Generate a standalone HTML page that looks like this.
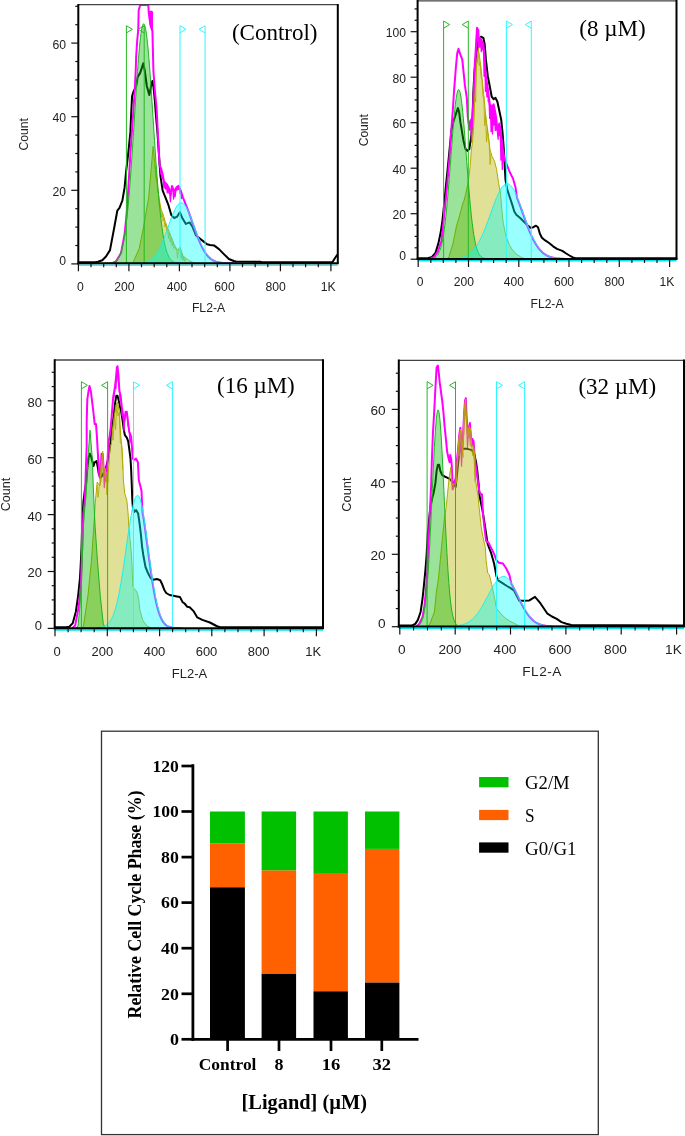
<!DOCTYPE html>
<html><head><meta charset="utf-8"><title>Cell cycle analysis</title>
<style>html,body{margin:0;padding:0;background:#fff;overflow:hidden}svg{display:block;will-change:transform}</style>
</head><body>
<svg width="685" height="1136" viewBox="0 0 685 1136">
<rect width="685" height="1136" fill="#fff"/>
<clipPath id="c1"><rect x="78.3" y="4.5" width="259.5" height="258.8"/></clipPath>
<g clip-path="url(#c1)">
<polyline points="78.4,262.3 95,262.3 98,261.8 102.3,260.3 106,256.5 110,250.1 114.4,226.8 117.3,210.7 119.5,207.8 122.4,200.5 124.6,187.4 126.1,171.3 128.2,153.8 130.4,131.9 131.1,115 132.1,96.1 133.7,91.1 136.2,86 137.7,76.9 140.2,72.9 143.3,63.2 144.8,70.8 146.8,86 149.3,95.1 150.9,87 152.4,80.9 153.4,86 154.9,101.2 155.9,115 157.4,131.9 158.9,153.8 160.4,175.7 162.6,190.3 165.5,197.6 168.4,204.9 171.3,215.1 174.2,218 177.2,216.6 179.8,212.2 182.3,218 185.9,223.9 189.6,222.4 192.5,226.8 196.1,235.5 199.8,238.5 203.4,241.4 207.1,244.3 210,245 214,245.4 219,249.1 223.9,254.1 228.9,259 233.8,261 236,261.5 260,261.8 262,262.3 332.4,262.3 335,258 337.4,254.7" fill="none" stroke="#000" stroke-width="2" stroke-linejoin="round"/>
<polyline points="112,263.3 115.8,261.8 121,253.1 124.6,234.1 126.8,212.2 128.2,190.3 130.4,153.8 131.9,131.9 133.4,110 134.7,91.1 135.7,70.8 136.2,55.7 137.2,40.5 138.2,30.4 138.7,10.1 140.2,5 148.3,5 148.8,13.2 150.5,25 152.4,30.4 152.9,50.6 153.4,70.8 154.9,91.1 156.4,106.2 156.7,110 158.2,139.2 159.6,165.5 161.1,168.4 162.6,174.2 164,181.5 166.9,184.5 169.1,188.8 170.6,194.7 172,185.9 174.2,191.8 176.4,187.4 178.6,185.9 180.1,188.8 183,197.6 185.9,204.9 188.8,212.2 191.8,220.9 191.9,221.4 192.4,222.8 192.9,224.2 193.4,225.5 193.9,226.9 194.4,228.3 194.9,229.7 195.4,231.1 195.9,232.4 196.4,233.8 196.9,235.1 197.4,236.4 197.9,237.7 198.4,239 198.9,240.2 199.4,241.4 199.9,242.6 200.4,243.7 200.9,244.8 201.4,245.9 201.9,246.9 202.4,247.9 202.9,248.8 203.4,249.7 203.9,250.6 204.4,251.4 204.9,252.2 205.4,253 205.9,253.7 206.4,254.4 206.9,255 207.4,255.6 207.9,256.2 208.4,256.7 208.9,257.2 209.4,257.7 209.9,258.2 210.4,258.6 210.9,259 211.4,259.3 211.9,259.7 212.4,260 212.9,260.3 213.4,260.5 213.9,260.8 214.4,261 214.9,261.2 215.4,261.4 215.9,261.6 216.4,261.8 216.9,261.9 217.4,262.1 217.9,262.2 218.4,262.3 218.9,262.4 219.4,262.5 219.9,262.6 220.4,262.7 220.9,262.7 221.4,262.8 221.9,262.8 222.4,262.9 222.9,262.9 223.4,263 223.9,263 224.4,263.1 224.9,263.1 225.4,263.1 225.9,263.1 226.4,263.2 226.9,263.2 227.4,263.2 227.9,263.2 228.4,263.2 228.9,263.2 229.4,263.2 229.9,263.2 230.4,263.3 230.9,263.3 231.4,263.3 231.9,263.3 232.4,263.3 232.9,263.3 233.4,263.3 233.9,263.3 234.4,263.3 234.9,263.3 235.4,263.3 235.9,263.3" fill="none" stroke="#ff00ff" stroke-width="2" stroke-linejoin="round"/>
<polyline points="160,167 160.8,174.2 161.6,171.7 162.4,179.2 163.2,178.1 164,188 164.8,182.6 165.6,189.2 166.4,184.9 167.2,192.8 168,186.8 168.8,193 169.6,190.9 170.4,201.8 171.2,192 172,189.2 172.8,189.5 173.6,199 174.4,192.4 175.2,196.5 176,188.4 176.8,190.2 177.6,187.4 178.4,189.4 179.2,187.3 180,193.1 180.8,191 181.6,199.1" fill="none" stroke="#ff00ff" stroke-width="1.3" stroke-linejoin="round"/>
<polygon points="148.6,11.5 151,10.5 153,11.5 153,30 151.5,31 150,27 149,20" fill="#ff00ff"/>
<polygon points="132,263.3 133.4,261.8 139.2,248.7 143.6,226.8 148.7,197.6 151.5,165 153.1,146.5 155.3,168.4 156.7,178.6 158.9,197.6 161.1,209.3 163.3,215.1 165.5,222.4 167.7,228.2 171.3,237 174.2,244.3 177.2,250.1 180.1,247.2 183,256 188.8,260.4 193.2,262.6 195,263.3" fill="rgb(186,186,22)" fill-opacity="0.45" stroke="#b3a800" stroke-width="1"/>
<polyline points="155,166.1 155.9,179.4 156.8,180.5 157.7,190.2 158.6,195 159.5,205.4 160.4,206 161.3,217.5 162.2,213.2 163.1,220.8 164,218.3 164.9,227 165.8,223.4 166.7,230.6 167.6,228.2 168.5,238.5 169.4,232.4 170.3,242.3 171.2,236.9 172.1,245.8 173,241.8 173.9,248.4 174.8,246.7 175.7,249.3 176.6,249 177.5,258.2 178.4,249.7 179.3,250.6 180.2,249 181.1,258.9 182,253.1 182.9,260.7 183.8,256.8 184.7,261.5 185.6,258.9" fill="none" stroke="#b3a800" stroke-width="1" stroke-opacity="0.8"/>
<polygon points="105,263.3 105,263.3 105.5,263.3 106,263.2 106.5,263.2 107,263.2 107.5,263.2 108,263.2 108.5,263.1 109,263.1 109.5,263.1 110,263 110.5,262.9 111,262.9 111.5,262.8 112,262.7 112.5,262.5 113,262.4 113.5,262.2 114,262 114.5,261.7 115,261.4 115.5,261.1 116,260.7 116.5,260.2 117,259.7 117.5,259.1 118,258.4 118.5,257.6 119,256.7 119.5,255.6 120,254.5 120.5,253.2 121,251.7 121.5,250.1 122,248.2 122.5,246.2 123,244 123.5,241.5 124,238.8 124.5,235.8 125,232.5 125.5,229 126,225.2 126.5,221.1 127,216.6 127.5,211.9 128,206.8 128.5,201.5 129,195.8 129.5,189.8 130,183.5 130.5,176.9 131,170.1 131.5,163 132,155.7 132.5,148.2 133,140.6 133.5,132.8 134,125 134.5,117.1 135,109.2 135.5,101.4 136,93.6 136.5,86.1 137,78.7 137.5,71.6 138,64.8 138.5,58.4 139,52.4 139.5,46.9 140,41.8 140.5,37.4 141,33.5 141.5,30.2 142,27.6 142.5,25.6 143,24.4 143.5,23.8 144,24 144.5,24.8 145,26.3 145.5,28.4 146,31.2 146.5,34.6 147,38.6 147.5,43.2 148,48.2 148.5,53.8 149,59.7 149.5,66.1 150,72.8 150.5,79.8 151,87 151.5,94.5 152,102 152.5,109.7 153,117.4 153.5,125.1 154,132.8 154.5,140.4 155,147.9 155.5,155.2 156,162.4 156.5,169.4 157,176.1 157.5,182.5 158,188.7 158.5,194.7 159,200.3 159.5,205.6 160,210.6 160.5,215.4 161,219.8 161.5,223.9 162,227.7 162.5,231.3 163,234.6 163.5,237.6 164,240.4 164.5,242.9 165,245.2 165.5,247.3 166,249.2 166.5,250.9 167,252.4 167.5,253.7 168,255 168.5,256 169,257 169.5,257.9 170,258.6 170.5,259.3 171,259.8 171.5,260.3 172,260.8 172.5,261.2 173,261.5 173.5,261.8 174,262 174.5,262.2 175,262.4 175.5,262.5 176,262.7 176.5,262.8 177,262.9 177.5,262.9 178,263 178.5,263.1 179,263.1 179.5,263.1 180,263.2 180.5,263.2 181,263.2 181.5,263.2 182,263.2 182.5,263.3 183,263.3 183,263.3" fill="rgb(11,184,9)" fill-opacity="0.41" stroke="#1db41d" stroke-width="1"/>
<polygon points="127,263.3 127,263.3 127.5,263.3 128,263.3 128.5,263.3 129,263.3 129.5,263.3 130,263.3 130.5,263.3 131,263.3 131.5,263.3 132,263.3 132.5,263.3 133,263.2 133.5,263.2 134,263.2 134.5,263.2 135,263.2 135.5,263.2 136,263.2 136.5,263.1 137,263.1 137.5,263.1 138,263.1 138.5,263 139,263 139.5,263 140,262.9 140.5,262.9 141,262.8 141.5,262.8 142,262.7 142.5,262.6 143,262.5 143.5,262.5 144,262.3 144.5,262.2 145,262.1 145.5,262 146,261.8 146.5,261.7 147,261.5 147.5,261.3 148,261.1 148.5,260.9 149,260.6 149.5,260.3 150,260 150.5,259.7 151,259.4 151.5,259 152,258.6 152.5,258.2 153,257.7 153.5,257.2 154,256.7 154.5,256.2 155,255.6 155.5,255 156,254.3 156.5,253.6 157,252.9 157.5,252.1 158,251.3 158.5,250.4 159,249.5 159.5,248.6 160,247.6 160.5,246.6 161,245.5 161.5,244.4 162,243.3 162.5,242.1 163,240.9 163.5,239.6 164,238.4 164.5,237.1 165,235.7 165.5,234.4 166,233 166.5,231.6 167,230.2 167.5,228.8 168,227.4 168.5,226 169,224.6 169.5,223.1 170,221.7 170.5,220.4 171,219 171.5,217.6 172,216.3 172.5,215.1 173,213.8 173.5,212.6 174,211.5 174.5,210.4 175,209.4 175.5,208.4 176,207.5 176.5,206.7 177,205.9 177.5,205.2 178,204.6 178.5,204.1 179,203.7 179.5,203.3 180,203.1 180.5,202.9 181,202.8 181.5,202.8 182,202.9 182.5,203.1 183,203.4 183.5,203.7 184,204.2 184.5,204.7 185,205.3 185.5,206 186,206.7 186.5,207.5 187,208.4 187.5,209.4 188,210.4 188.5,211.4 189,212.5 189.5,213.7 190,214.9 190.5,216.1 191,217.4 191.5,218.7 192,220.1 192.5,221.4 193,222.8 193.5,224.2 194,225.5 194.5,226.9 195,228.3 195.5,229.7 196,231.1 196.5,232.4 197,233.8 197.5,235.1 198,236.4 198.5,237.7 199,239 199.5,240.2 200,241.4 200.5,242.6 201,243.7 201.5,244.8 202,245.9 202.5,246.9 203,247.9 203.5,248.8 204,249.7 204.5,250.6 205,251.4 205.5,252.2 206,253 206.5,253.7 207,254.4 207.5,255 208,255.6 208.5,256.2 209,256.7 209.5,257.2 210,257.7 210.5,258.2 211,258.6 211.5,259 212,259.3 212.5,259.7 213,260 213.5,260.3 214,260.5 214.5,260.8 215,261 215.5,261.2 216,261.4 216.5,261.6 217,261.8 217.5,261.9 218,262.1 218.5,262.2 219,262.3 219.5,262.4 220,262.5 220.5,262.6 221,262.7 221.5,262.7 222,262.8 222.5,262.8 223,262.9 223.5,262.9 224,263 224.5,263 225,263.1 225.5,263.1 226,263.1 226.5,263.1 227,263.2 227.5,263.2 228,263.2 228.5,263.2 229,263.2 229.5,263.2 230,263.2 230.5,263.2 231,263.3 231.5,263.3 232,263.3 232.5,263.3 233,263.3 233.5,263.3 234,263.3 234.5,263.3 235,263.3 235.5,263.3 236,263.3 236.5,263.3 236.5,263.3" fill="#00ffff" fill-opacity="0.4" stroke="#12f0f0" stroke-width="1"/>
</g>
<line x1="126.4" y1="25.7" x2="126.4" y2="263.3" stroke="#26b826" stroke-width="1"/>
<polyline points="126.4,25.7 132.4,29.3 126.4,32.9" fill="none" stroke="#26b826" stroke-width="1"/>
<line x1="144.2" y1="25.7" x2="144.2" y2="263.3" stroke="#26b826" stroke-width="1"/>
<polyline points="144.2,25.7 138.2,29.3 144.2,32.9" fill="none" stroke="#26b826" stroke-width="1"/>
<line x1="180" y1="25.7" x2="180" y2="263.3" stroke="#2ff8ff" stroke-width="1"/>
<polyline points="180,25.7 186,29.3 180,32.9" fill="none" stroke="#2ff8ff" stroke-width="1"/>
<line x1="205.1" y1="25.7" x2="205.1" y2="263.3" stroke="#2ff8ff" stroke-width="1"/>
<polyline points="205.1,25.7 199.1,29.3 205.1,32.9" fill="none" stroke="#2ff8ff" stroke-width="1"/>
<line x1="78.3" y1="265.1" x2="337.8" y2="265.1" stroke="#00e5ee" stroke-width="1.4"/>
<line x1="78.3" y1="4.7" x2="337.8" y2="4.7" stroke="#444" stroke-width="1.3"/>
<line x1="337.8" y1="3.9" x2="337.8" y2="263.3" stroke="#000" stroke-width="2"/>
<line x1="78.3" y1="3.9" x2="78.3" y2="264.3" stroke="#000" stroke-width="2"/>
<line x1="77.3" y1="263.3" x2="338.8" y2="263.3" stroke="#000" stroke-width="2"/>
<line x1="71.3" y1="263.9" x2="78.3" y2="263.9" stroke="#111" stroke-width="1.2"/>
<text transform="translate(66.1,265.1) scale(1.0,1)" text-anchor="end" style="font-family:&quot;Liberation Sans&quot;,sans-serif;font-size:12.2px" fill="#222">0</text>
<line x1="75.3" y1="245.5" x2="78.3" y2="245.5" stroke="#111" stroke-width="1.2"/>
<line x1="75.3" y1="227.1" x2="78.3" y2="227.1" stroke="#111" stroke-width="1.2"/>
<line x1="75.3" y1="208.7" x2="78.3" y2="208.7" stroke="#111" stroke-width="1.2"/>
<line x1="71.3" y1="190.3" x2="78.3" y2="190.3" stroke="#111" stroke-width="1.2"/>
<text transform="translate(66.1,196) scale(1.0,1)" text-anchor="end" style="font-family:&quot;Liberation Sans&quot;,sans-serif;font-size:12.2px" fill="#222">20</text>
<line x1="75.3" y1="171.9" x2="78.3" y2="171.9" stroke="#111" stroke-width="1.2"/>
<line x1="75.3" y1="153.5" x2="78.3" y2="153.5" stroke="#111" stroke-width="1.2"/>
<line x1="75.3" y1="135.1" x2="78.3" y2="135.1" stroke="#111" stroke-width="1.2"/>
<line x1="71.3" y1="116.7" x2="78.3" y2="116.7" stroke="#111" stroke-width="1.2"/>
<text transform="translate(66.1,122.4) scale(1.0,1)" text-anchor="end" style="font-family:&quot;Liberation Sans&quot;,sans-serif;font-size:12.2px" fill="#222">40</text>
<line x1="75.3" y1="98.3" x2="78.3" y2="98.3" stroke="#111" stroke-width="1.2"/>
<line x1="75.3" y1="79.9" x2="78.3" y2="79.9" stroke="#111" stroke-width="1.2"/>
<line x1="75.3" y1="61.5" x2="78.3" y2="61.5" stroke="#111" stroke-width="1.2"/>
<line x1="71.3" y1="43.1" x2="78.3" y2="43.1" stroke="#111" stroke-width="1.2"/>
<text transform="translate(66.1,48.8) scale(1.0,1)" text-anchor="end" style="font-family:&quot;Liberation Sans&quot;,sans-serif;font-size:12.2px" fill="#222">60</text>
<line x1="75.3" y1="24.7" x2="78.3" y2="24.7" stroke="#111" stroke-width="1.2"/>
<line x1="75.3" y1="6.3" x2="78.3" y2="6.3" stroke="#111" stroke-width="1.2"/>
<line x1="78.4" y1="263.3" x2="78.4" y2="271.3" stroke="#111" stroke-width="1.2"/>
<line x1="91" y1="263.3" x2="91" y2="267.3" stroke="#111" stroke-width="1.2"/>
<line x1="103.7" y1="263.3" x2="103.7" y2="267.3" stroke="#111" stroke-width="1.2"/>
<line x1="116.3" y1="263.3" x2="116.3" y2="267.3" stroke="#111" stroke-width="1.2"/>
<line x1="128.9" y1="263.3" x2="128.9" y2="271.3" stroke="#111" stroke-width="1.2"/>
<line x1="141.5" y1="263.3" x2="141.5" y2="267.3" stroke="#111" stroke-width="1.2"/>
<line x1="154.2" y1="263.3" x2="154.2" y2="267.3" stroke="#111" stroke-width="1.2"/>
<line x1="166.8" y1="263.3" x2="166.8" y2="267.3" stroke="#111" stroke-width="1.2"/>
<line x1="179.4" y1="263.3" x2="179.4" y2="271.3" stroke="#111" stroke-width="1.2"/>
<line x1="192" y1="263.3" x2="192" y2="267.3" stroke="#111" stroke-width="1.2"/>
<line x1="204.7" y1="263.3" x2="204.7" y2="267.3" stroke="#111" stroke-width="1.2"/>
<line x1="217.3" y1="263.3" x2="217.3" y2="267.3" stroke="#111" stroke-width="1.2"/>
<line x1="229.9" y1="263.3" x2="229.9" y2="271.3" stroke="#111" stroke-width="1.2"/>
<line x1="242.5" y1="263.3" x2="242.5" y2="267.3" stroke="#111" stroke-width="1.2"/>
<line x1="255.2" y1="263.3" x2="255.2" y2="267.3" stroke="#111" stroke-width="1.2"/>
<line x1="267.8" y1="263.3" x2="267.8" y2="267.3" stroke="#111" stroke-width="1.2"/>
<line x1="280.4" y1="263.3" x2="280.4" y2="271.3" stroke="#111" stroke-width="1.2"/>
<line x1="293" y1="263.3" x2="293" y2="267.3" stroke="#111" stroke-width="1.2"/>
<line x1="305.6" y1="263.3" x2="305.6" y2="267.3" stroke="#111" stroke-width="1.2"/>
<line x1="318.3" y1="263.3" x2="318.3" y2="267.3" stroke="#111" stroke-width="1.2"/>
<line x1="330.9" y1="263.3" x2="330.9" y2="271.3" stroke="#111" stroke-width="1.2"/>
<text transform="translate(80.5,291.2) scale(1.0,1)" text-anchor="middle" style="font-family:&quot;Liberation Sans&quot;,sans-serif;font-size:12.2px" fill="#222">0</text>
<text transform="translate(124.4,291.2) scale(1.0,1)" text-anchor="middle" style="font-family:&quot;Liberation Sans&quot;,sans-serif;font-size:12.2px" fill="#222">200</text>
<text transform="translate(176.8,291.2) scale(1.0,1)" text-anchor="middle" style="font-family:&quot;Liberation Sans&quot;,sans-serif;font-size:12.2px" fill="#222">400</text>
<text transform="translate(224.5,291.2) scale(1.0,1)" text-anchor="middle" style="font-family:&quot;Liberation Sans&quot;,sans-serif;font-size:12.2px" fill="#222">600</text>
<text transform="translate(275.7,291.2) scale(1.0,1)" text-anchor="middle" style="font-family:&quot;Liberation Sans&quot;,sans-serif;font-size:12.2px" fill="#222">800</text>
<text transform="translate(328.2,291.2) scale(1.0,1)" text-anchor="middle" style="font-family:&quot;Liberation Sans&quot;,sans-serif;font-size:12.2px" fill="#222">1K</text>
<text transform="translate(23.4,134.3) rotate(-90)" x="0" y="4.4" text-anchor="middle" style="font-family:&quot;Liberation Sans&quot;,sans-serif;font-size:12.2px" fill="#222">Count</text>
<text transform="translate(208.5,312.1) scale(1.0,1)" text-anchor="middle" style="font-family:&quot;Liberation Sans&quot;,sans-serif;font-size:12.2px;letter-spacing:0px" fill="#222">FL2-A</text>
<text x="231.9" y="40.1" style="font-family:&quot;Liberation Serif&quot;,serif;font-size:23px" fill="#000">(Control)</text>
<clipPath id="c2"><rect x="417.6" y="0.7" width="258.9" height="258.3"/></clipPath>
<g clip-path="url(#c2)">
<polyline points="417.6,258.2 428,258.2 432,256.9 435.5,252.8 438.4,243.4 440.8,231.8 442.5,220.1 444.3,202.6 446,185 447.8,167.5 449.5,150 451.5,129.8 454,119.6 456.6,112 457.9,108.1 459.1,112 460.4,122.2 461.7,129.8 463.6,141.3 465.5,149 467.4,150.9 469.3,149 471.3,136.2 472.5,117.1 473.4,91.6 474.4,72.4 476.4,53.3 478.3,40.5 480.8,36.7 483.4,38 484.7,44.3 485.9,59.7 487.8,76.2 489.8,86.5 491.7,96.7 493.6,99.2 495.5,97.9 497.4,101.8 499.3,110.7 501.2,119.6 502.5,132.4 503.8,149 504.5,162.8 505.5,179.9 507.1,189.1 509.7,197 512.3,204.9 514.3,211.5 516.3,214.7 520.2,218 524.2,222 528.1,225.9 530.7,227.9 533.4,227.2 536,225.7 538,227.2 539.9,233.8 541.9,237.7 545.2,240.4 549.1,243 553.1,246.3 557,248.9 562.3,250.9 566.2,253.5 569.5,255.5 572.8,257.4 575.4,258.2 677,258.2" fill="none" stroke="#000" stroke-width="2" stroke-linejoin="round"/>
<polyline points="430,259 434.3,256.9 437.8,251.6 441.4,241.1 443.1,225.9 444.9,208.4 446.6,190.9 448.4,171 450.1,150 450.8,136.2 452.8,110.7 454,91.6 456,66 457.2,53.3 458.5,48.8 460.4,54.6 462.3,59.7 463.6,72.4 464.9,85.2 466.8,97.9 467.8,117.1 468.7,123.5 469.6,129.8 470.6,120.9 472.5,117.1 473.8,91.6 474.7,66 475.7,50.7 477,27.8 478.3,30.3 478.9,43.1 480.2,38 481.5,40.5 483.4,44.3 484.7,59.7 485.9,76.2 487.8,89 489.8,104.3 491.7,106.9 493.6,104.3 494.9,110.7 496.1,117.1 497.4,129.8 499.3,123.5 500.6,129.8 502.5,147.1 504.5,158.9 507.1,165.5 509.7,172 513,178.6 515.6,187.8 517,197.9 517.5,199.1 518,200.4 518.5,201.7 519,203 519.5,204.3 520,205.7 520.5,207 521,208.4 521.5,209.8 522,211.2 522.5,212.6 523,214 523.5,215.4 524,216.8 524.5,218.2 525,219.6 525.5,220.9 526,222.3 526.5,223.6 527,225 527.5,226.3 528,227.6 528.5,228.8 529,230.1 529.5,231.3 530,232.5 530.5,233.6 531,234.8 531.5,235.9 532,236.9 532.5,238 533,239 533.5,240 534,240.9 534.5,241.9 535,242.7 535.5,243.6 536,244.4 536.5,245.2 537,246 537.5,246.7 538,247.4 538.5,248.1 539,248.7 539.5,249.3 540,249.9 540.5,250.5 541,251 541.5,251.5 542,252 542.5,252.5 543,252.9 543.5,253.3 544,253.7 544.5,254.1 545,254.4 545.5,254.7 546,255 546.5,255.3 547,255.6 547.5,255.8 548,256.1 548.5,256.3 549,256.5 549.5,256.7 550,256.9 550.5,257 551,257.2 551.5,257.3 552,257.5 552.5,257.6 553,257.7 553.5,257.8 554,257.9 554.5,258 555,258.1 555.5,258.2 556,258.3 556.5,258.3 557,258.4 557.5,258.4 558,258.5 558.5,258.5 559,258.6 559.5,258.6 560,258.7 560.5,258.7 561,258.7 561.5,258.7 562,258.8 562.5,258.8 563,258.8 563.5,258.8 564,258.9 564.5,258.9 565,258.9 565.5,258.9 566,258.9 566.5,258.9 567,258.9 567.5,258.9 568,258.9 568.5,258.9 569,259 569.5,259 570,259 570.5,259 571,259 571.5,259 572,259 572.5,259 573,259 573.5,259 574,259 574.5,259" fill="none" stroke="#ff00ff" stroke-width="2" stroke-linejoin="round"/>
<polyline points="470.8,120.7 471.5,141.7 472.2,118.7 472.9,126.8 473.6,95.8 474.3,102.4 475,62.6 475.7,69 476.4,39.1 477.1,39.7 477.8,29.3 478.5,49.5 479.2,42.8 479.9,46.8 480.6,40 481.3,51.7 482,41.8 482.7,49.9 483.4,45.8 484.1,76.3 484.8,62.4 485.5,91.5 486.2,78.3 486.9,96.8 487.6,88.4 488.3,101.6 489,99.6 489.7,118.4 490.4,105.4 491.1,131.7 491.8,107 492.5,134.1 493.2,105.5 493.9,125 494.6,109.7 495.3,130.5 496,116.8 496.7,129.9 497.4,131.1 498.1,139.1 498.8,126.3 499.5,135.5 500.2,129.3 500.9,160 501.6,140 502.3,169.6 503,150.9" fill="none" stroke="#ff00ff" stroke-width="1.3" stroke-linejoin="round"/>
<polygon points="447,259 448.9,256.9 453,243.4 456.5,225.9 460,214.2 462.4,204.9 464.1,200.2 465.9,193.2 467.6,185 469.4,173.4 470.5,161.7 471.3,150 472.5,142.6 473.8,117.1 475.1,91.6 476.4,66 478.3,48.2 480.8,66 483.4,91.6 485.9,117.1 488.5,136.2 490,149.7 492,156.3 494.6,161.5 496.6,169.4 498.5,182.6 500.5,193.1 501.8,208.8 503.1,222 505.1,232.5 507.1,239.1 509.7,245.6 512.3,249.6 516.3,254.2 521.5,257.4 526,259" fill="rgb(186,186,22)" fill-opacity="0.45" stroke="#b3a800" stroke-width="1"/>
<polyline points="473,134.2 473.9,121.7 474.8,97.5 475.7,101.8 476.6,64.4 477.5,61.9 478.4,49.9 479.3,65.5 480.2,63.1 481.1,77.1 482,79.3 482.9,96.4 483.8,96.6 484.7,125.6 485.6,115.1 486.5,142.1 487.4,129.2 488.3,139.6 489.2,143.8 490.1,164.6 491,153.5" fill="none" stroke="#b3a800" stroke-width="1" stroke-opacity="0.8"/>
<polygon points="426.3,259 426.3,259 426.8,259 427.3,259 427.8,258.9 428.3,258.9 428.8,258.9 429.3,258.9 429.8,258.8 430.3,258.8 430.8,258.8 431.3,258.7 431.8,258.6 432.3,258.5 432.8,258.4 433.3,258.2 433.8,258.1 434.3,257.9 434.8,257.6 435.3,257.3 435.8,256.9 436.3,256.5 436.8,256 437.3,255.4 437.8,254.7 438.3,253.8 438.8,252.9 439.3,251.8 439.8,250.5 440.3,249.1 440.8,247.4 441.3,245.6 441.8,243.5 442.3,241.2 442.8,238.6 443.3,235.7 443.8,232.6 444.3,229.1 444.8,225.3 445.3,221.2 445.8,216.8 446.3,212.1 446.8,207.1 447.3,201.7 447.8,196.1 448.3,190.2 448.8,184.1 449.3,177.8 449.8,171.4 450.3,164.8 450.8,158.1 451.3,151.5 451.8,144.8 452.3,138.3 452.8,131.9 453.3,125.8 453.8,120 454.3,114.5 454.8,109.4 455.3,104.8 455.8,100.7 456.3,97.2 456.8,94.4 457.3,92.1 457.8,90.6 458.3,89.8 458.8,89.6 459.3,90.2 459.8,91.5 460.3,93.5 460.8,96.1 461.3,99.4 461.8,103.3 462.3,107.7 462.8,112.6 463.3,117.9 463.8,123.7 464.3,129.7 464.8,136 465.3,142.5 465.8,149.1 466.3,155.7 466.8,162.4 467.3,169 467.8,175.5 468.3,181.9 468.8,188.1 469.3,194 469.8,199.7 470.3,205.2 470.8,210.3 471.3,215.2 471.8,219.7 472.3,223.9 472.8,227.8 473.3,231.3 473.8,234.6 474.3,237.6 474.8,240.3 475.3,242.7 475.8,244.9 476.3,246.8 476.8,248.5 477.3,250 477.8,251.3 478.3,252.5 478.8,253.5 479.3,254.4 479.8,255.1 480.3,255.8 480.8,256.3 481.3,256.8 481.8,257.2 482.3,257.5 482.8,257.8 483.3,258 483.8,258.2 484.3,258.3 484.8,258.5 485.3,258.6 485.8,258.7 486.3,258.7 486.8,258.8 487.3,258.8 487.8,258.9 488.3,258.9 488.8,258.9 489.3,258.9 489.8,259 490.3,259 490.8,259 490.8,259" fill="rgb(11,184,9)" fill-opacity="0.41" stroke="#1db41d" stroke-width="1"/>
<polygon points="438.6,259 438.6,259 439.1,259 439.6,259 440.1,259 440.6,259 441.1,259 441.6,259 442.1,259 442.6,259 443.1,259 443.6,259 444.1,259 444.6,259 445.1,258.9 445.6,258.9 446.1,258.9 446.6,258.9 447.1,258.9 447.6,258.9 448.1,258.9 448.6,258.9 449.1,258.9 449.6,258.8 450.1,258.8 450.6,258.8 451.1,258.8 451.6,258.8 452.1,258.7 452.6,258.7 453.1,258.7 453.6,258.7 454.1,258.6 454.6,258.6 455.1,258.5 455.6,258.5 456.1,258.4 456.6,258.4 457.1,258.3 457.6,258.2 458.1,258.2 458.6,258.1 459.1,258 459.6,257.9 460.1,257.8 460.6,257.7 461.1,257.6 461.6,257.5 462.1,257.3 462.6,257.2 463.1,257 463.6,256.8 464.1,256.7 464.6,256.5 465.1,256.3 465.6,256 466.1,255.8 466.6,255.5 467.1,255.3 467.6,255 468.1,254.7 468.6,254.3 469.1,254 469.6,253.6 470.1,253.2 470.6,252.8 471.1,252.4 471.6,251.9 472.1,251.5 472.6,250.9 473.1,250.4 473.6,249.8 474.1,249.3 474.6,248.6 475.1,248 475.6,247.3 476.1,246.6 476.6,245.9 477.1,245.1 477.6,244.3 478.1,243.5 478.6,242.6 479.1,241.7 479.6,240.8 480.1,239.8 480.6,238.8 481.1,237.8 481.6,236.8 482.1,235.7 482.6,234.6 483.1,233.4 483.6,232.3 484.1,231.1 484.6,229.9 485.1,228.6 485.6,227.3 486.1,226.1 486.6,224.7 487.1,223.4 487.6,222.1 488.1,220.7 488.6,219.3 489.1,218 489.6,216.6 490.1,215.2 490.6,213.8 491.1,212.4 491.6,211 492.1,209.6 492.6,208.2 493.1,206.8 493.6,205.5 494.1,204.1 494.6,202.8 495.1,201.5 495.6,200.2 496.1,198.9 496.6,197.7 497.1,196.5 497.6,195.4 498.1,194.3 498.6,193.2 499.1,192.2 499.6,191.2 500.1,190.3 500.6,189.4 501.1,188.6 501.6,187.8 502.1,187.1 502.6,186.5 503.1,185.9 503.6,185.4 504.1,184.9 504.6,184.6 505.1,184.2 505.6,184 506.1,183.8 506.6,183.7 507.1,183.7 507.6,183.7 508.1,183.9 508.6,184 509.1,184.3 509.6,184.6 510.1,185 510.6,185.5 511.1,186 511.6,186.6 512.1,187.2 512.6,187.9 513.1,188.7 513.6,189.5 514.1,190.4 514.6,191.3 515.1,192.3 515.6,193.4 516.1,194.4 516.6,195.6 517.1,196.7 517.6,197.9 518.1,199.1 518.6,200.4 519.1,201.7 519.6,203 520.1,204.3 520.6,205.7 521.1,207 521.6,208.4 522.1,209.8 522.6,211.2 523.1,212.6 523.6,214 524.1,215.4 524.6,216.8 525.1,218.2 525.6,219.6 526.1,220.9 526.6,222.3 527.1,223.6 527.6,225 528.1,226.3 528.6,227.6 529.1,228.8 529.6,230.1 530.1,231.3 530.6,232.5 531.1,233.6 531.6,234.8 532.1,235.9 532.6,236.9 533.1,238 533.6,239 534.1,240 534.6,240.9 535.1,241.9 535.6,242.7 536.1,243.6 536.6,244.4 537.1,245.2 537.6,246 538.1,246.7 538.6,247.4 539.1,248.1 539.6,248.7 540.1,249.3 540.6,249.9 541.1,250.5 541.6,251 542.1,251.5 542.6,252 543.1,252.5 543.6,252.9 544.1,253.3 544.6,253.7 545.1,254.1 545.6,254.4 546.1,254.7 546.6,255 547.1,255.3 547.6,255.6 548.1,255.8 548.6,256.1 549.1,256.3 549.6,256.5 550.1,256.7 550.6,256.9 551.1,257 551.6,257.2 552.1,257.3 552.6,257.5 553.1,257.6 553.6,257.7 554.1,257.8 554.6,257.9 555.1,258 555.6,258.1 556.1,258.2 556.6,258.3 557.1,258.3 557.6,258.4 558.1,258.4 558.6,258.5 559.1,258.5 559.6,258.6 560.1,258.6 560.6,258.7 561.1,258.7 561.6,258.7 562.1,258.7 562.6,258.8 563.1,258.8 563.6,258.8 564.1,258.8 564.6,258.9 565.1,258.9 565.6,258.9 566.1,258.9 566.6,258.9 567.1,258.9 567.6,258.9 568.1,258.9 568.6,258.9 569.1,258.9 569.6,259 570.1,259 570.6,259 571.1,259 571.6,259 572.1,259 572.6,259 573.1,259 573.6,259 574.1,259 574.6,259 575.1,259 575.1,259" fill="#00ffff" fill-opacity="0.4" stroke="#12f0f0" stroke-width="1"/>
</g>
<line x1="443.6" y1="21" x2="443.6" y2="259" stroke="#26b826" stroke-width="1"/>
<polyline points="443.6,21 449.6,24.6 443.6,28.2" fill="none" stroke="#26b826" stroke-width="1"/>
<line x1="468.3" y1="21" x2="468.3" y2="259" stroke="#26b826" stroke-width="1"/>
<polyline points="468.3,21 462.3,24.6 468.3,28.2" fill="none" stroke="#26b826" stroke-width="1"/>
<line x1="506.4" y1="21" x2="506.4" y2="259" stroke="#2ff8ff" stroke-width="1"/>
<polyline points="506.4,21 512.4,24.6 506.4,28.2" fill="none" stroke="#2ff8ff" stroke-width="1"/>
<line x1="531.3" y1="21" x2="531.3" y2="259" stroke="#2ff8ff" stroke-width="1"/>
<polyline points="531.3,21 525.3,24.6 531.3,28.2" fill="none" stroke="#2ff8ff" stroke-width="1"/>
<line x1="417.6" y1="260.8" x2="676.5" y2="260.8" stroke="#00e5ee" stroke-width="1.4"/>
<line x1="417.6" y1="0.9" x2="676.5" y2="0.9" stroke="#444" stroke-width="1.3"/>
<line x1="676.5" y1="0.1" x2="676.5" y2="259" stroke="#000" stroke-width="2"/>
<line x1="417.6" y1="0.1" x2="417.6" y2="260" stroke="#000" stroke-width="2"/>
<line x1="416.6" y1="259" x2="677.5" y2="259" stroke="#000" stroke-width="2"/>
<line x1="410.6" y1="259.2" x2="417.6" y2="259.2" stroke="#111" stroke-width="1.2"/>
<text transform="translate(405.9,260.4) scale(1.0,1)" text-anchor="end" style="font-family:&quot;Liberation Sans&quot;,sans-serif;font-size:12.1px" fill="#222">0</text>
<line x1="414.6" y1="247.8" x2="417.6" y2="247.8" stroke="#111" stroke-width="1.2"/>
<line x1="414.6" y1="236.4" x2="417.6" y2="236.4" stroke="#111" stroke-width="1.2"/>
<line x1="414.6" y1="225.1" x2="417.6" y2="225.1" stroke="#111" stroke-width="1.2"/>
<line x1="410.6" y1="213.7" x2="417.6" y2="213.7" stroke="#111" stroke-width="1.2"/>
<text transform="translate(405.9,219.3) scale(1.0,1)" text-anchor="end" style="font-family:&quot;Liberation Sans&quot;,sans-serif;font-size:12.1px" fill="#222">20</text>
<line x1="414.6" y1="202.3" x2="417.6" y2="202.3" stroke="#111" stroke-width="1.2"/>
<line x1="414.6" y1="190.9" x2="417.6" y2="190.9" stroke="#111" stroke-width="1.2"/>
<line x1="414.6" y1="179.6" x2="417.6" y2="179.6" stroke="#111" stroke-width="1.2"/>
<line x1="410.6" y1="168.2" x2="417.6" y2="168.2" stroke="#111" stroke-width="1.2"/>
<text transform="translate(405.9,173.8) scale(1.0,1)" text-anchor="end" style="font-family:&quot;Liberation Sans&quot;,sans-serif;font-size:12.1px" fill="#222">40</text>
<line x1="414.6" y1="156.8" x2="417.6" y2="156.8" stroke="#111" stroke-width="1.2"/>
<line x1="414.6" y1="145.4" x2="417.6" y2="145.4" stroke="#111" stroke-width="1.2"/>
<line x1="414.6" y1="134.1" x2="417.6" y2="134.1" stroke="#111" stroke-width="1.2"/>
<line x1="410.6" y1="122.7" x2="417.6" y2="122.7" stroke="#111" stroke-width="1.2"/>
<text transform="translate(405.9,128.3) scale(1.0,1)" text-anchor="end" style="font-family:&quot;Liberation Sans&quot;,sans-serif;font-size:12.1px" fill="#222">60</text>
<line x1="414.6" y1="111.3" x2="417.6" y2="111.3" stroke="#111" stroke-width="1.2"/>
<line x1="414.6" y1="99.9" x2="417.6" y2="99.9" stroke="#111" stroke-width="1.2"/>
<line x1="414.6" y1="88.6" x2="417.6" y2="88.6" stroke="#111" stroke-width="1.2"/>
<line x1="410.6" y1="77.2" x2="417.6" y2="77.2" stroke="#111" stroke-width="1.2"/>
<text transform="translate(405.9,82.8) scale(1.0,1)" text-anchor="end" style="font-family:&quot;Liberation Sans&quot;,sans-serif;font-size:12.1px" fill="#222">80</text>
<line x1="414.6" y1="65.8" x2="417.6" y2="65.8" stroke="#111" stroke-width="1.2"/>
<line x1="414.6" y1="54.4" x2="417.6" y2="54.4" stroke="#111" stroke-width="1.2"/>
<line x1="414.6" y1="43.1" x2="417.6" y2="43.1" stroke="#111" stroke-width="1.2"/>
<line x1="410.6" y1="31.7" x2="417.6" y2="31.7" stroke="#111" stroke-width="1.2"/>
<text transform="translate(405.9,37.3) scale(1.0,1)" text-anchor="end" style="font-family:&quot;Liberation Sans&quot;,sans-serif;font-size:12.1px" fill="#222">100</text>
<line x1="414.6" y1="20.3" x2="417.6" y2="20.3" stroke="#111" stroke-width="1.2"/>
<line x1="414.6" y1="8.9" x2="417.6" y2="8.9" stroke="#111" stroke-width="1.2"/>
<line x1="418.2" y1="259" x2="418.2" y2="267" stroke="#111" stroke-width="1.2"/>
<line x1="430.8" y1="259" x2="430.8" y2="263" stroke="#111" stroke-width="1.2"/>
<line x1="443.3" y1="259" x2="443.3" y2="263" stroke="#111" stroke-width="1.2"/>
<line x1="455.9" y1="259" x2="455.9" y2="263" stroke="#111" stroke-width="1.2"/>
<line x1="468.5" y1="259" x2="468.5" y2="267" stroke="#111" stroke-width="1.2"/>
<line x1="481.1" y1="259" x2="481.1" y2="263" stroke="#111" stroke-width="1.2"/>
<line x1="493.6" y1="259" x2="493.6" y2="263" stroke="#111" stroke-width="1.2"/>
<line x1="506.2" y1="259" x2="506.2" y2="263" stroke="#111" stroke-width="1.2"/>
<line x1="518.8" y1="259" x2="518.8" y2="267" stroke="#111" stroke-width="1.2"/>
<line x1="531.3" y1="259" x2="531.3" y2="263" stroke="#111" stroke-width="1.2"/>
<line x1="543.9" y1="259" x2="543.9" y2="263" stroke="#111" stroke-width="1.2"/>
<line x1="556.5" y1="259" x2="556.5" y2="263" stroke="#111" stroke-width="1.2"/>
<line x1="569" y1="259" x2="569" y2="267" stroke="#111" stroke-width="1.2"/>
<line x1="581.6" y1="259" x2="581.6" y2="263" stroke="#111" stroke-width="1.2"/>
<line x1="594.2" y1="259" x2="594.2" y2="263" stroke="#111" stroke-width="1.2"/>
<line x1="606.8" y1="259" x2="606.8" y2="263" stroke="#111" stroke-width="1.2"/>
<line x1="619.3" y1="259" x2="619.3" y2="267" stroke="#111" stroke-width="1.2"/>
<line x1="631.9" y1="259" x2="631.9" y2="263" stroke="#111" stroke-width="1.2"/>
<line x1="644.5" y1="259" x2="644.5" y2="263" stroke="#111" stroke-width="1.2"/>
<line x1="657" y1="259" x2="657" y2="263" stroke="#111" stroke-width="1.2"/>
<line x1="669.6" y1="259" x2="669.6" y2="267" stroke="#111" stroke-width="1.2"/>
<text transform="translate(420,285.9) scale(1.0,1)" text-anchor="middle" style="font-family:&quot;Liberation Sans&quot;,sans-serif;font-size:12.1px" fill="#222">0</text>
<text transform="translate(463.9,285.9) scale(1.0,1)" text-anchor="middle" style="font-family:&quot;Liberation Sans&quot;,sans-serif;font-size:12.1px" fill="#222">200</text>
<text transform="translate(513.8,285.9) scale(1.0,1)" text-anchor="middle" style="font-family:&quot;Liberation Sans&quot;,sans-serif;font-size:12.1px" fill="#222">400</text>
<text transform="translate(564,285.9) scale(1.0,1)" text-anchor="middle" style="font-family:&quot;Liberation Sans&quot;,sans-serif;font-size:12.1px" fill="#222">600</text>
<text transform="translate(614.5,285.9) scale(1.0,1)" text-anchor="middle" style="font-family:&quot;Liberation Sans&quot;,sans-serif;font-size:12.1px" fill="#222">800</text>
<text transform="translate(666.8,285.9) scale(1.0,1)" text-anchor="middle" style="font-family:&quot;Liberation Sans&quot;,sans-serif;font-size:12.1px" fill="#222">1K</text>
<text transform="translate(363.6,130.2) rotate(-90)" x="0" y="4.3" text-anchor="middle" style="font-family:&quot;Liberation Sans&quot;,sans-serif;font-size:12.1px" fill="#222">Count</text>
<text transform="translate(547,307.5) scale(1.0,1)" text-anchor="middle" style="font-family:&quot;Liberation Sans&quot;,sans-serif;font-size:12.1px;letter-spacing:0px" fill="#222">FL2-A</text>
<text x="579.3" y="36.2" style="font-family:&quot;Liberation Serif&quot;,serif;font-size:23px" fill="#000">(8 µM)</text>
<clipPath id="c3"><rect x="54.7" y="359.8" width="268.3" height="268.4"/></clipPath>
<g clip-path="url(#c3)">
<polyline points="54.7,627.3 66,627.3 69.3,626.7 72.8,623.1 75.9,611.5 78.2,595.1 79.9,578.8 80.6,567.1 81.5,548.4 82.2,525 83.4,501.7 84.9,490 86.1,483.2 87.3,468.5 88.6,457.4 89.8,453.7 91,456.1 92.3,461.1 93.5,466 94.7,462.3 96.6,461.1 97.8,467.2 98.7,473.4 100.5,478 102.1,475.8 105.8,468.5 108.3,458.6 110.1,446.3 112,427.8 113.8,415.5 115.1,403.1 116.3,395.7 117.5,395.7 118.8,400.7 120,406.8 121.2,411.8 122.4,419.2 123.7,429 124.9,435.2 126.8,437.6 128.2,441.3 129.2,448.7 130.5,458.6 131.1,468.5 131.7,483.2 132.3,500 132.8,506.8 134.1,512.1 136.1,510.1 138.1,513.4 139.5,522.8 140.8,533.5 142.1,546.9 143.5,556.3 145.5,567 148.2,573.6 150.8,578.3 153.5,579.7 156.9,579 160.2,580.3 162.2,584.3 164.2,589.7 166.2,593 169.6,595 173.6,595.7 176.9,596.4 180,597.1 182.6,602.1 184.6,603.5 187.3,606.8 189.7,607.3 193.5,611.1 197.3,617.4 202.3,619.9 209.9,622.5 216.5,626 220,627.3 323,627.3" fill="none" stroke="#000" stroke-width="2" stroke-linejoin="round"/>
<polyline points="72,628.4 75.2,625.5 78.7,606.8 81,583.4 82.2,548.4 83.4,513.4 84.9,500 85.8,470.9 86.7,446.3 86.7,421.6 87.3,399.4 88.6,390.8 89.5,385.9 91,392 92.3,403.1 93.5,413 94.7,424.1 96,424.1 96.9,436.4 97.8,452.4 98.7,464.8 99.6,477.1 100.9,468.5 101.5,453.7 102.7,453.7 103.6,468.5 104.6,477.1 105.8,468.5 107,470.9 108.3,443.8 109.5,436.4 110.7,427.8 112,411.8 113.2,397 114.4,390.8 115.7,381 116.9,367.4 117.5,366.2 118.4,374.8 119.4,390.8 120.6,395.7 121.8,406.8 123.1,415.5 124.3,421.6 125.5,411.8 126.8,411.8 128,421.6 129.2,431.5 131.1,436.4 131.9,446.3 132.7,458.6 133.9,459.8 136,458.6 137.9,462.3 138.8,480 141.5,490.7 142.5,512.4 143,515.3 143.5,518.4 144,521.7 144.5,525.1 145,528.6 145.5,532.2 146,535.9 146.5,539.6 147,543.4 147.5,547.2 148,551 148.5,554.8 149,558.5 149.5,562.2 150,565.9 150.5,569.5 151,573 151.5,576.4 152,579.7 152.5,582.9 153,585.9 153.5,588.9 154,591.7 154.5,594.4 155,597 155.5,599.4 156,601.7 156.5,603.9 157,606 157.5,607.9 158,609.7 158.5,611.4 159,612.9 159.5,614.4 160,615.7 160.5,616.9 161,618.1 161.5,619.1 162,620 162.5,620.9 163,621.7 163.5,622.4 164,623.1 164.5,623.7 165,624.2 165.5,624.7 166,625.1 166.5,625.5 167,625.8 167.5,626.1 168,626.4 168.5,626.6 169,626.8 169.5,627 170,627.2 170.5,627.3 171,627.4 171.5,627.5 172,627.6 172.5,627.7 173,627.8 173.5,627.9 174,627.9 174.5,627.9 175,628 175.5,628 176,628 176.5,628.1 177,628.1 177.5,628.1 178,628.1 178.5,628.1 179,628.1 179.5,628.2 180,628.2 180.5,628.2 181,628.2" fill="none" stroke="#ff00ff" stroke-width="2" stroke-linejoin="round"/>
<polyline points="98,455.2 98.9,472.9 99.8,476.4 100.7,482 101.6,453.9 102.5,459 103.4,465.6 104.3,487.6 105.2,473 106.1,482 107,471.9 107.9,457.8" fill="none" stroke="#ff00ff" stroke-width="1.2" stroke-linejoin="round"/>
<polyline points="113,399.6 114,397.8 115,386.7 116,388.7 117,367.9 118,380.5 119,384.6 120,400.8 121,400.7 122,415.8 123,416.2 124,431 125,416.4 126,414.8 127,414.6 128,425.7 129,429.9 130,443.1 131,437.4" fill="none" stroke="#ff00ff" stroke-width="1.1" stroke-linejoin="round"/>
<polygon points="81,628.4 83.4,626.7 88,595 91.5,560 93.9,525 95.5,500 97.2,482 99.6,485.7 101.5,462 102.7,451.2 103.6,468 105.2,468.5 106.5,480 107.7,483.2 108.9,464.8 110.1,446.3 111.4,443.8 112.6,429 114.4,415.5 116,405 117.5,401.9 119.4,411.8 120.6,434 121.2,440.1 122.4,452.4 123.4,480 124.7,493.4 126.8,500.1 128.1,513.4 128.8,526.8 130.1,540.2 131.4,553.6 132.1,567 132.8,587 135.5,589.7 137.5,593.7 138.8,600.4 140.1,611.1 142.8,620.5 146.8,625.8 149.5,627.2 151,628.4" fill="rgb(186,186,22)" fill-opacity="0.45" stroke="#b3a800" stroke-width="1"/>
<polyline points="97,485 98.1,497.5 99.2,486.3 100.3,485.4 101.4,464.2 102.5,471.3 103.6,469.4 104.7,475.3 105.8,474.8 106.9,494.9 108,479.4" fill="none" stroke="#b3a800" stroke-width="1" stroke-opacity="0.8"/>
<polyline points="112,437.2 113.2,440.2 114.4,416.8 115.6,429.6 116.8,404.7 118,415.8 119.2,412.2 120.4,442.8 121.6,444.7 122.8,469.3" fill="none" stroke="#b3a800" stroke-width="1" stroke-opacity="0.8"/>
<polygon points="75.5,628.4 78,626 79.9,606.8 81,590 82.2,560.1 83.4,525 85,505 86.1,495.6 87.9,458.6 90,430.2 92.3,458.6 93.4,490 95,525 97.4,560.1 100.2,595.1 103.2,623.1 105,628.4" fill="rgb(11,184,9)" fill-opacity="0.41" stroke="#1db41d" stroke-width="1"/>
<polygon points="90.1,628.2 90.1,628.2 90.6,628.2 91.1,628.2 91.6,628.2 92.1,628.2 92.6,628.2 93.1,628.1 93.6,628.1 94.1,628.1 94.6,628.1 95.1,628.1 95.6,628.1 96.1,628 96.6,628 97.1,628 97.6,627.9 98.1,627.9 98.6,627.9 99.1,627.8 99.6,627.7 100.1,627.7 100.6,627.6 101.1,627.5 101.6,627.4 102.1,627.2 102.6,627.1 103.1,626.9 103.6,626.7 104.1,626.5 104.6,626.3 105.1,626.1 105.6,625.8 106.1,625.4 106.6,625.1 107.1,624.7 107.6,624.2 108.1,623.8 108.6,623.2 109.1,622.6 109.6,622 110.1,621.3 110.6,620.5 111.1,619.6 111.6,618.7 112.1,617.7 112.6,616.6 113.1,615.4 113.6,614.2 114.1,612.8 114.6,611.3 115.1,609.8 115.6,608.1 116.1,606.3 116.6,604.4 117.1,602.4 117.6,600.3 118.1,598.1 118.6,595.7 119.1,593.2 119.6,590.6 120.1,587.9 120.6,585.1 121.1,582.2 121.6,579.2 122.1,576.1 122.6,572.9 123.1,569.6 123.6,566.3 124.1,562.9 124.6,559.4 125.1,555.9 125.6,552.4 126.1,548.8 126.6,545.2 127.1,541.7 127.6,538.1 128.1,534.7 128.6,531.2 129.1,527.9 129.6,524.6 130.1,521.4 130.6,518.3 131.1,515.4 131.6,512.6 132.1,510 132.6,507.6 133.1,505.4 133.6,503.3 134.1,501.5 134.6,499.9 135.1,498.5 135.6,497.4 136.1,496.5 136.6,495.9 137.1,495.5 137.6,495.4 138.1,495.6 138.6,496 139.1,496.8 139.6,497.8 140.1,499.2 140.6,500.8 141.1,502.6 141.6,504.7 142.1,507 142.6,509.6 143.1,512.4 143.6,515.3 144.1,518.4 144.6,521.7 145.1,525.1 145.6,528.6 146.1,532.2 146.6,535.9 147.1,539.6 147.6,543.4 148.1,547.2 148.6,551 149.1,554.8 149.6,558.5 150.1,562.2 150.6,565.9 151.1,569.5 151.6,573 152.1,576.4 152.6,579.7 153.1,582.9 153.6,585.9 154.1,588.9 154.6,591.7 155.1,594.4 155.6,597 156.1,599.4 156.6,601.7 157.1,603.9 157.6,606 158.1,607.9 158.6,609.7 159.1,611.4 159.6,612.9 160.1,614.4 160.6,615.7 161.1,616.9 161.6,618.1 162.1,619.1 162.6,620 163.1,620.9 163.6,621.7 164.1,622.4 164.6,623.1 165.1,623.7 165.6,624.2 166.1,624.7 166.6,625.1 167.1,625.5 167.6,625.8 168.1,626.1 168.6,626.4 169.1,626.6 169.6,626.8 170.1,627 170.6,627.2 171.1,627.3 171.6,627.4 172.1,627.5 172.6,627.6 173.1,627.7 173.6,627.8 174.1,627.9 174.6,627.9 175.1,627.9 175.6,628 176.1,628 176.6,628 177.1,628.1 177.6,628.1 178.1,628.1 178.6,628.1 179.1,628.1 179.6,628.1 180.1,628.2 180.6,628.2 181.1,628.2 181.6,628.2 181.6,628.2" fill="#00ffff" fill-opacity="0.4" stroke="#12f0f0" stroke-width="1"/>
</g>
<line x1="81.4" y1="381.7" x2="81.4" y2="628.2" stroke="#26b826" stroke-width="1"/>
<polyline points="81.4,381.7 87.4,385.3 81.4,388.9" fill="none" stroke="#26b826" stroke-width="1"/>
<line x1="107.6" y1="381.7" x2="107.6" y2="628.2" stroke="#26b826" stroke-width="1"/>
<polyline points="107.6,381.7 101.6,385.3 107.6,388.9" fill="none" stroke="#26b826" stroke-width="1"/>
<line x1="133.5" y1="381.7" x2="133.5" y2="628.2" stroke="#2ff8ff" stroke-width="1"/>
<polyline points="133.5,381.7 139.5,385.3 133.5,388.9" fill="none" stroke="#2ff8ff" stroke-width="1"/>
<line x1="172.4" y1="381.7" x2="172.4" y2="628.2" stroke="#2ff8ff" stroke-width="1"/>
<polyline points="172.4,381.7 166.4,385.3 172.4,388.9" fill="none" stroke="#2ff8ff" stroke-width="1"/>
<line x1="54.7" y1="630" x2="323" y2="630" stroke="#00e5ee" stroke-width="1.4"/>
<line x1="54.7" y1="360" x2="323" y2="360" stroke="#444" stroke-width="1.3"/>
<line x1="323" y1="359.2" x2="323" y2="628.2" stroke="#000" stroke-width="2"/>
<line x1="54.7" y1="359.2" x2="54.7" y2="629.2" stroke="#000" stroke-width="2"/>
<line x1="53.7" y1="628.2" x2="324" y2="628.2" stroke="#000" stroke-width="2"/>
<line x1="47.7" y1="628.4" x2="54.7" y2="628.4" stroke="#111" stroke-width="1.2"/>
<text transform="translate(42,629.7) scale(1.03,1)" text-anchor="end" style="font-family:&quot;Liberation Sans&quot;,sans-serif;font-size:12.6px" fill="#222">0</text>
<line x1="51.7" y1="614.2" x2="54.7" y2="614.2" stroke="#111" stroke-width="1.2"/>
<line x1="51.7" y1="599.9" x2="54.7" y2="599.9" stroke="#111" stroke-width="1.2"/>
<line x1="51.7" y1="585.7" x2="54.7" y2="585.7" stroke="#111" stroke-width="1.2"/>
<line x1="47.7" y1="571.5" x2="54.7" y2="571.5" stroke="#111" stroke-width="1.2"/>
<text transform="translate(42,577.4) scale(1.03,1)" text-anchor="end" style="font-family:&quot;Liberation Sans&quot;,sans-serif;font-size:12.6px" fill="#222">20</text>
<line x1="51.7" y1="557.3" x2="54.7" y2="557.3" stroke="#111" stroke-width="1.2"/>
<line x1="51.7" y1="543" x2="54.7" y2="543" stroke="#111" stroke-width="1.2"/>
<line x1="51.7" y1="528.8" x2="54.7" y2="528.8" stroke="#111" stroke-width="1.2"/>
<line x1="47.7" y1="514.6" x2="54.7" y2="514.6" stroke="#111" stroke-width="1.2"/>
<text transform="translate(42,520.5) scale(1.03,1)" text-anchor="end" style="font-family:&quot;Liberation Sans&quot;,sans-serif;font-size:12.6px" fill="#222">40</text>
<line x1="51.7" y1="500.4" x2="54.7" y2="500.4" stroke="#111" stroke-width="1.2"/>
<line x1="51.7" y1="486.1" x2="54.7" y2="486.1" stroke="#111" stroke-width="1.2"/>
<line x1="51.7" y1="471.9" x2="54.7" y2="471.9" stroke="#111" stroke-width="1.2"/>
<line x1="47.7" y1="457.7" x2="54.7" y2="457.7" stroke="#111" stroke-width="1.2"/>
<text transform="translate(42,463.6) scale(1.03,1)" text-anchor="end" style="font-family:&quot;Liberation Sans&quot;,sans-serif;font-size:12.6px" fill="#222">60</text>
<line x1="51.7" y1="443.5" x2="54.7" y2="443.5" stroke="#111" stroke-width="1.2"/>
<line x1="51.7" y1="429.2" x2="54.7" y2="429.2" stroke="#111" stroke-width="1.2"/>
<line x1="51.7" y1="415" x2="54.7" y2="415" stroke="#111" stroke-width="1.2"/>
<line x1="47.7" y1="400.8" x2="54.7" y2="400.8" stroke="#111" stroke-width="1.2"/>
<text transform="translate(42,406.7) scale(1.03,1)" text-anchor="end" style="font-family:&quot;Liberation Sans&quot;,sans-serif;font-size:12.6px" fill="#222">80</text>
<line x1="51.7" y1="386.6" x2="54.7" y2="386.6" stroke="#111" stroke-width="1.2"/>
<line x1="51.7" y1="372.3" x2="54.7" y2="372.3" stroke="#111" stroke-width="1.2"/>
<line x1="55" y1="628.2" x2="55" y2="636.2" stroke="#111" stroke-width="1.2"/>
<line x1="68.1" y1="628.2" x2="68.1" y2="632.2" stroke="#111" stroke-width="1.2"/>
<line x1="81.1" y1="628.2" x2="81.1" y2="632.2" stroke="#111" stroke-width="1.2"/>
<line x1="94.2" y1="628.2" x2="94.2" y2="632.2" stroke="#111" stroke-width="1.2"/>
<line x1="107.3" y1="628.2" x2="107.3" y2="636.2" stroke="#111" stroke-width="1.2"/>
<line x1="120.4" y1="628.2" x2="120.4" y2="632.2" stroke="#111" stroke-width="1.2"/>
<line x1="133.4" y1="628.2" x2="133.4" y2="632.2" stroke="#111" stroke-width="1.2"/>
<line x1="146.5" y1="628.2" x2="146.5" y2="632.2" stroke="#111" stroke-width="1.2"/>
<line x1="159.6" y1="628.2" x2="159.6" y2="636.2" stroke="#111" stroke-width="1.2"/>
<line x1="172.6" y1="628.2" x2="172.6" y2="632.2" stroke="#111" stroke-width="1.2"/>
<line x1="185.7" y1="628.2" x2="185.7" y2="632.2" stroke="#111" stroke-width="1.2"/>
<line x1="198.8" y1="628.2" x2="198.8" y2="632.2" stroke="#111" stroke-width="1.2"/>
<line x1="211.8" y1="628.2" x2="211.8" y2="636.2" stroke="#111" stroke-width="1.2"/>
<line x1="224.9" y1="628.2" x2="224.9" y2="632.2" stroke="#111" stroke-width="1.2"/>
<line x1="238" y1="628.2" x2="238" y2="632.2" stroke="#111" stroke-width="1.2"/>
<line x1="251.1" y1="628.2" x2="251.1" y2="632.2" stroke="#111" stroke-width="1.2"/>
<line x1="264.1" y1="628.2" x2="264.1" y2="636.2" stroke="#111" stroke-width="1.2"/>
<line x1="277.2" y1="628.2" x2="277.2" y2="632.2" stroke="#111" stroke-width="1.2"/>
<line x1="290.3" y1="628.2" x2="290.3" y2="632.2" stroke="#111" stroke-width="1.2"/>
<line x1="303.3" y1="628.2" x2="303.3" y2="632.2" stroke="#111" stroke-width="1.2"/>
<line x1="316.4" y1="628.2" x2="316.4" y2="636.2" stroke="#111" stroke-width="1.2"/>
<text transform="translate(57.2,655.9) scale(1.03,1)" text-anchor="middle" style="font-family:&quot;Liberation Sans&quot;,sans-serif;font-size:12.6px" fill="#222">0</text>
<text transform="translate(102.4,655.9) scale(1.03,1)" text-anchor="middle" style="font-family:&quot;Liberation Sans&quot;,sans-serif;font-size:12.6px" fill="#222">200</text>
<text transform="translate(154.5,655.9) scale(1.03,1)" text-anchor="middle" style="font-family:&quot;Liberation Sans&quot;,sans-serif;font-size:12.6px" fill="#222">400</text>
<text transform="translate(206.5,655.9) scale(1.03,1)" text-anchor="middle" style="font-family:&quot;Liberation Sans&quot;,sans-serif;font-size:12.6px" fill="#222">600</text>
<text transform="translate(258.6,655.9) scale(1.03,1)" text-anchor="middle" style="font-family:&quot;Liberation Sans&quot;,sans-serif;font-size:12.6px" fill="#222">800</text>
<text transform="translate(313.1,655.9) scale(1.03,1)" text-anchor="middle" style="font-family:&quot;Liberation Sans&quot;,sans-serif;font-size:12.6px" fill="#222">1K</text>
<text transform="translate(5.5,494.5) rotate(-90)" x="0" y="4.5" text-anchor="middle" style="font-family:&quot;Liberation Sans&quot;,sans-serif;font-size:12.6px" fill="#222">Count</text>
<text transform="translate(189.5,678.2) scale(1.03,1)" text-anchor="middle" style="font-family:&quot;Liberation Sans&quot;,sans-serif;font-size:12.6px;letter-spacing:0px" fill="#222">FL2-A</text>
<text x="217" y="392.7" style="font-family:&quot;Liberation Serif&quot;,serif;font-size:23px" fill="#000">(16 µM)</text>
<clipPath id="c4"><rect x="398.8" y="360.1" width="285.2" height="266.4"/></clipPath>
<g clip-path="url(#c4)">
<polyline points="398.8,625.5 412,625.5 415.3,623.9 417.9,619.9 420.6,612 422.5,598.8 423.9,585.6 425.2,572.4 426.5,556.6 427.8,532.8 429.1,519.6 430.5,506.4 432.4,497.2 433.6,493.1 435.4,483.2 436.6,470.9 437.9,464.8 439.1,464.8 440.3,470.9 442.2,475.2 444.6,476.5 447.1,477.7 449.6,478.9 452.5,482 455.7,486.9 457.6,468.5 459.4,451.2 461.9,448.7 464.4,448.7 466.8,448.7 469.3,449.4 471.8,450 474.2,453.7 476.1,462.3 477.3,470.9 478.5,483.2 479.6,496.1 482.8,512.1 485.3,528.2 487.7,544.2 490.9,552.3 494.1,563.5 496.5,576.4 498.1,580.4 502.1,582.8 506.9,586 511,588.4 514.2,590.8 516.6,595.6 519,600.4 523,600.8 529.4,600.4 531.8,598.8 535,596.9 537.4,599.6 540.7,603.7 543.9,608.5 547.1,613.3 551.9,616.5 556.7,618.9 561.5,622.1 566.4,623.7 571.2,625 684,625.5" fill="none" stroke="#000" stroke-width="2" stroke-linejoin="round"/>
<polyline points="416,626.7 419.2,623.9 422.5,617.3 424.5,605.4 425.8,592.2 427.2,572.4 428.5,546 429.8,513 431.1,486.6 431.7,464.8 432.9,433.9 434.2,411.8 435.4,388.3 436.6,367.4 437.9,365.5 438.7,372.3 439.7,382.2 441,392 442.2,400.7 443.4,411.8 444.6,426.6 445.9,438.9 447.1,451.2 448.3,457.4 449.6,462.3 450.2,454.9 451.1,458.6 451.8,466 452.7,489.4 453.9,483.2 455.7,478.3 456.7,462.3 458.2,448.7 459.4,433.9 460.4,427.8 461.3,448.7 462.5,446.3 463.8,419.2 465,400.7 465.8,398.2 466.8,421.6 467.8,433.9 468.7,429 469.9,422.9 471.1,440.1 472.4,438.9 473.6,441.3 474.8,458.6 476.1,468.5 477.3,477.1 479.6,492.8 482,494.5 482.8,512.1 484.5,528.2 486.1,541 488.5,542.6 490.9,547.4 494.1,553.9 496.5,560.3 498.9,562.7 502.9,563.5 506.1,568.3 509.3,574.7 511.4,583.9 511.9,584.7 512.4,585.6 512.9,586.5 513.4,587.4 513.9,588.4 514.4,589.4 514.9,590.4 515.4,591.4 515.9,592.4 516.4,593.4 516.9,594.4 517.4,595.5 517.9,596.5 518.4,597.6 518.9,598.6 519.4,599.6 519.9,600.7 520.4,601.7 520.9,602.7 521.4,603.7 521.9,604.6 522.4,605.6 522.9,606.5 523.4,607.4 523.9,608.3 524.4,609.2 524.9,610.1 525.4,610.9 525.9,611.7 526.4,612.5 526.9,613.2 527.4,614 527.9,614.7 528.4,615.3 528.9,616 529.4,616.6 529.9,617.2 530.4,617.8 530.9,618.3 531.4,618.8 531.9,619.3 532.4,619.8 532.9,620.3 533.4,620.7 533.9,621.1 534.4,621.5 534.9,621.8 535.4,622.2 535.9,622.5 536.4,622.8 536.9,623.1 537.4,623.3 537.9,623.6 538.4,623.8 538.9,624 539.4,624.2 539.9,624.4 540.4,624.6 540.9,624.7 541.4,624.9 541.9,625 542.4,625.2 542.9,625.3 543.4,625.4 543.9,625.5 544.4,625.6 544.9,625.7 545.4,625.7 545.9,625.8 546.4,625.9 546.9,625.9 547.4,626 547.9,626 548.4,626.1 548.9,626.1 549.4,626.2 549.9,626.2 550.4,626.2 550.9,626.3 551.4,626.3 551.9,626.3 552.4,626.3 552.9,626.4 553.4,626.4 553.9,626.4 554.4,626.4 554.9,626.4 555.4,626.4 555.9,626.4 556.4,626.4 556.9,626.4 557.4,626.5 557.9,626.5 558.4,626.5 558.9,626.5 559.4,626.5 559.9,626.5 560.4,626.5 560.9,626.5 561.4,626.5 561.9,626.5 562.4,626.5 562.9,626.5 563.4,626.5 563.9,626.5 564.4,626.5" fill="none" stroke="#ff00ff" stroke-width="2" stroke-linejoin="round"/>
<polyline points="456.5,466.1 457.5,463.7 458.5,445.2 459.5,455.6 460.5,431 461.5,466.1 462.5,447.1 463.5,437.1 464.5,409.5 465.5,414.7 466.5,415.8 467.5,447.4 468.5,431.3 469.5,437.7 470.5,431.7 471.5,446.7 472.5,440.2 473.5,448.5 474.5,455.3 475.5,480.3" fill="none" stroke="#ff00ff" stroke-width="1.2" stroke-linejoin="round"/>
<polygon points="428,626.7 429.8,623.9 434.4,612 436.4,592.2 438.4,579 440.4,559.2 442.3,539.4 444.3,519.6 446.3,506.4 447.6,493.2 448.9,480 450.8,467.2 452,485 454,484 456.4,483.2 457,464.8 458.2,446.3 459.4,436.4 460.4,429 461.3,440.1 462.5,446.3 464.4,406.8 465.6,399.4 466.6,421.6 467.4,433.9 469.3,426.6 470.5,429 471.8,446.3 473.6,446.3 474.8,458.6 475.6,480 478,496.1 479.6,512.1 481.2,526.6 482.8,536.2 485.3,547.4 486.1,560.3 487.7,573.1 489.3,574.7 491.7,584.4 494.1,595.6 496.5,608.5 500.5,613.3 505.3,618.1 510.1,621.3 515,623.7 520,626.7" fill="rgb(186,186,22)" fill-opacity="0.45" stroke="#b3a800" stroke-width="1"/>
<polyline points="457,465.8 458.2,451 459.4,436.8 460.6,441.3 461.8,443.8 463,457.5 464.2,412.3 465.4,406.9 466.6,422.2 467.8,437.1 469,428.1 470.2,445.5 471.4,441 472.6,455.5 473.8,449.3 475,482.1" fill="none" stroke="#b3a800" stroke-width="1" stroke-opacity="0.8"/>
<polygon points="412.9,626.5 412.9,626.5 413.4,626.5 413.9,626.4 414.4,626.4 414.9,626.4 415.4,626.3 415.9,626.3 416.4,626.2 416.9,626.1 417.4,625.9 417.9,625.8 418.4,625.5 418.9,625.2 419.4,624.8 419.9,624.3 420.4,623.7 420.9,622.9 421.4,622 421.9,620.8 422.4,619.4 422.9,617.7 423.4,615.7 423.9,613.3 424.4,610.5 424.9,607.2 425.4,603.4 425.9,599.1 426.4,594.1 426.9,588.6 427.4,582.3 427.9,575.4 428.4,567.9 428.9,559.6 429.4,550.8 429.9,541.4 430.4,531.4 430.9,521.1 431.4,510.4 431.9,499.5 432.4,488.6 432.9,477.7 433.4,467.1 433.9,457 434.4,447.4 434.9,438.6 435.4,430.8 435.9,424 436.4,418.4 436.9,414.2 437.4,411.4 437.9,410 438.4,410.2 438.9,411.8 439.4,414.9 439.9,419.4 440.4,425.2 440.9,432.2 441.4,440.3 441.9,449.3 442.4,459 442.9,469.2 443.4,479.9 443.9,490.7 444.4,501.7 444.9,512.5 445.4,523.2 445.9,533.5 446.4,543.3 446.9,552.6 447.4,561.3 447.9,569.4 448.4,576.9 448.9,583.6 449.4,589.7 449.9,595.2 450.4,600 450.9,604.2 451.4,607.9 451.9,611.1 452.4,613.8 452.9,616.2 453.4,618.1 453.9,619.7 454.4,621.1 454.9,622.2 455.4,623.1 455.9,623.8 456.4,624.4 456.9,624.9 457.4,625.3 457.9,625.6 458.4,625.8 458.9,626 459.4,626.1 459.9,626.2 460.4,626.3 460.9,626.3 461.4,626.4 461.9,626.4 462.4,626.4 462.9,626.5 462.9,626.5" fill="rgb(11,184,9)" fill-opacity="0.41" stroke="#1db41d" stroke-width="1"/>
<polygon points="436.5,626.5 436.5,626.5 437,626.5 437.5,626.5 438,626.5 438.5,626.5 439,626.5 439.5,626.5 440,626.5 440.5,626.5 441,626.5 441.5,626.5 442,626.5 442.5,626.5 443,626.5 443.5,626.5 444,626.5 444.5,626.4 445,626.4 445.5,626.4 446,626.4 446.5,626.4 447,626.4 447.5,626.4 448,626.4 448.5,626.4 449,626.4 449.5,626.3 450,626.3 450.5,626.3 451,626.3 451.5,626.3 452,626.2 452.5,626.2 453,626.2 453.5,626.1 454,626.1 454.5,626.1 455,626 455.5,626 456,625.9 456.5,625.9 457,625.8 457.5,625.7 458,625.7 458.5,625.6 459,625.5 459.5,625.4 460,625.3 460.5,625.2 461,625.1 461.5,625 462,624.8 462.5,624.7 463,624.5 463.5,624.4 464,624.2 464.5,624 465,623.8 465.5,623.6 466,623.4 466.5,623.1 467,622.9 467.5,622.6 468,622.3 468.5,622 469,621.7 469.5,621.4 470,621 470.5,620.7 471,620.3 471.5,619.9 472,619.5 472.5,619 473,618.5 473.5,618.1 474,617.6 474.5,617 475,616.5 475.5,615.9 476,615.3 476.5,614.7 477,614.1 477.5,613.4 478,612.7 478.5,612 479,611.3 479.5,610.5 480,609.8 480.5,609 481,608.2 481.5,607.4 482,606.5 482.5,605.7 483,604.8 483.5,603.9 484,603 484.5,602.1 485,601.2 485.5,600.3 486,599.3 486.5,598.4 487,597.4 487.5,596.5 488,595.5 488.5,594.6 489,593.6 489.5,592.7 490,591.8 490.5,590.9 491,589.9 491.5,589 492,588.2 492.5,587.3 493,586.4 493.5,585.6 494,584.8 494.5,584 495,583.3 495.5,582.6 496,581.9 496.5,581.2 497,580.6 497.5,580 498,579.5 498.5,579 499,578.5 499.5,578.1 500,577.7 500.5,577.4 501,577.1 501.5,576.9 502,576.7 502.5,576.5 503,576.4 503.5,576.4 504,576.4 504.5,576.5 505,576.6 505.5,576.8 506,577 506.5,577.3 507,577.7 507.5,578.1 508,578.5 508.5,579 509,579.6 509.5,580.2 510,580.9 510.5,581.5 511,582.3 511.5,583.1 512,583.9 512.5,584.7 513,585.6 513.5,586.5 514,587.4 514.5,588.4 515,589.4 515.5,590.4 516,591.4 516.5,592.4 517,593.4 517.5,594.4 518,595.5 518.5,596.5 519,597.6 519.5,598.6 520,599.6 520.5,600.7 521,601.7 521.5,602.7 522,603.7 522.5,604.6 523,605.6 523.5,606.5 524,607.4 524.5,608.3 525,609.2 525.5,610.1 526,610.9 526.5,611.7 527,612.5 527.5,613.2 528,614 528.5,614.7 529,615.3 529.5,616 530,616.6 530.5,617.2 531,617.8 531.5,618.3 532,618.8 532.5,619.3 533,619.8 533.5,620.3 534,620.7 534.5,621.1 535,621.5 535.5,621.8 536,622.2 536.5,622.5 537,622.8 537.5,623.1 538,623.3 538.5,623.6 539,623.8 539.5,624 540,624.2 540.5,624.4 541,624.6 541.5,624.7 542,624.9 542.5,625 543,625.2 543.5,625.3 544,625.4 544.5,625.5 545,625.6 545.5,625.7 546,625.7 546.5,625.8 547,625.9 547.5,625.9 548,626 548.5,626 549,626.1 549.5,626.1 550,626.2 550.5,626.2 551,626.2 551.5,626.3 552,626.3 552.5,626.3 553,626.3 553.5,626.4 554,626.4 554.5,626.4 555,626.4 555.5,626.4 556,626.4 556.5,626.4 557,626.4 557.5,626.4 558,626.5 558.5,626.5 559,626.5 559.5,626.5 560,626.5 560.5,626.5 561,626.5 561.5,626.5 562,626.5 562.5,626.5 563,626.5 563.5,626.5 564,626.5 564.5,626.5 565,626.5 565,626.5" fill="#00ffff" fill-opacity="0.4" stroke="#12f0f0" stroke-width="1"/>
</g>
<line x1="427.1" y1="381.7" x2="427.1" y2="626.5" stroke="#26b826" stroke-width="1"/>
<polyline points="427.1,381.7 433.1,385.3 427.1,388.9" fill="none" stroke="#26b826" stroke-width="1"/>
<line x1="455.5" y1="381.7" x2="455.5" y2="626.5" stroke="#26b826" stroke-width="1"/>
<polyline points="455.5,381.7 449.5,385.3 455.5,388.9" fill="none" stroke="#26b826" stroke-width="1"/>
<line x1="496.5" y1="381.7" x2="496.5" y2="626.5" stroke="#2ff8ff" stroke-width="1"/>
<polyline points="496.5,381.7 502.5,385.3 496.5,388.9" fill="none" stroke="#2ff8ff" stroke-width="1"/>
<line x1="524.6" y1="381.7" x2="524.6" y2="626.5" stroke="#2ff8ff" stroke-width="1"/>
<polyline points="524.6,381.7 518.6,385.3 524.6,388.9" fill="none" stroke="#2ff8ff" stroke-width="1"/>
<line x1="398.8" y1="628.3" x2="684" y2="628.3" stroke="#00e5ee" stroke-width="1.4"/>
<line x1="398.8" y1="360.3" x2="684" y2="360.3" stroke="#444" stroke-width="1.3"/>
<line x1="684" y1="359.5" x2="684" y2="626.5" stroke="#000" stroke-width="2"/>
<line x1="398.8" y1="359.5" x2="398.8" y2="627.5" stroke="#000" stroke-width="2"/>
<line x1="397.8" y1="626.5" x2="685" y2="626.5" stroke="#000" stroke-width="2"/>
<line x1="391.8" y1="626.7" x2="398.8" y2="626.7" stroke="#111" stroke-width="1.2"/>
<text transform="translate(385.7,628) scale(1.06,1)" text-anchor="end" style="font-family:&quot;Liberation Sans&quot;,sans-serif;font-size:12.9px" fill="#222">0</text>
<line x1="395.8" y1="608.6" x2="398.8" y2="608.6" stroke="#111" stroke-width="1.2"/>
<line x1="395.8" y1="590.5" x2="398.8" y2="590.5" stroke="#111" stroke-width="1.2"/>
<line x1="395.8" y1="572.4" x2="398.8" y2="572.4" stroke="#111" stroke-width="1.2"/>
<line x1="391.8" y1="554.3" x2="398.8" y2="554.3" stroke="#111" stroke-width="1.2"/>
<text transform="translate(385.7,560.3) scale(1.06,1)" text-anchor="end" style="font-family:&quot;Liberation Sans&quot;,sans-serif;font-size:12.9px" fill="#222">20</text>
<line x1="395.8" y1="536.2" x2="398.8" y2="536.2" stroke="#111" stroke-width="1.2"/>
<line x1="395.8" y1="518" x2="398.8" y2="518" stroke="#111" stroke-width="1.2"/>
<line x1="395.8" y1="499.9" x2="398.8" y2="499.9" stroke="#111" stroke-width="1.2"/>
<line x1="391.8" y1="481.8" x2="398.8" y2="481.8" stroke="#111" stroke-width="1.2"/>
<text transform="translate(385.7,487.8) scale(1.06,1)" text-anchor="end" style="font-family:&quot;Liberation Sans&quot;,sans-serif;font-size:12.9px" fill="#222">40</text>
<line x1="395.8" y1="463.7" x2="398.8" y2="463.7" stroke="#111" stroke-width="1.2"/>
<line x1="395.8" y1="445.6" x2="398.8" y2="445.6" stroke="#111" stroke-width="1.2"/>
<line x1="395.8" y1="427.5" x2="398.8" y2="427.5" stroke="#111" stroke-width="1.2"/>
<line x1="391.8" y1="409.4" x2="398.8" y2="409.4" stroke="#111" stroke-width="1.2"/>
<text transform="translate(385.7,415.4) scale(1.06,1)" text-anchor="end" style="font-family:&quot;Liberation Sans&quot;,sans-serif;font-size:12.9px" fill="#222">60</text>
<line x1="395.8" y1="391.3" x2="398.8" y2="391.3" stroke="#111" stroke-width="1.2"/>
<line x1="395.8" y1="373.2" x2="398.8" y2="373.2" stroke="#111" stroke-width="1.2"/>
<line x1="399.8" y1="626.5" x2="399.8" y2="634.5" stroke="#111" stroke-width="1.2"/>
<line x1="413.6" y1="626.5" x2="413.6" y2="630.5" stroke="#111" stroke-width="1.2"/>
<line x1="427.5" y1="626.5" x2="427.5" y2="630.5" stroke="#111" stroke-width="1.2"/>
<line x1="441.3" y1="626.5" x2="441.3" y2="630.5" stroke="#111" stroke-width="1.2"/>
<line x1="455.2" y1="626.5" x2="455.2" y2="634.5" stroke="#111" stroke-width="1.2"/>
<line x1="469" y1="626.5" x2="469" y2="630.5" stroke="#111" stroke-width="1.2"/>
<line x1="482.8" y1="626.5" x2="482.8" y2="630.5" stroke="#111" stroke-width="1.2"/>
<line x1="496.7" y1="626.5" x2="496.7" y2="630.5" stroke="#111" stroke-width="1.2"/>
<line x1="510.5" y1="626.5" x2="510.5" y2="634.5" stroke="#111" stroke-width="1.2"/>
<line x1="524.4" y1="626.5" x2="524.4" y2="630.5" stroke="#111" stroke-width="1.2"/>
<line x1="538.2" y1="626.5" x2="538.2" y2="630.5" stroke="#111" stroke-width="1.2"/>
<line x1="552" y1="626.5" x2="552" y2="630.5" stroke="#111" stroke-width="1.2"/>
<line x1="565.9" y1="626.5" x2="565.9" y2="634.5" stroke="#111" stroke-width="1.2"/>
<line x1="579.7" y1="626.5" x2="579.7" y2="630.5" stroke="#111" stroke-width="1.2"/>
<line x1="593.6" y1="626.5" x2="593.6" y2="630.5" stroke="#111" stroke-width="1.2"/>
<line x1="607.4" y1="626.5" x2="607.4" y2="630.5" stroke="#111" stroke-width="1.2"/>
<line x1="621.2" y1="626.5" x2="621.2" y2="634.5" stroke="#111" stroke-width="1.2"/>
<line x1="635.1" y1="626.5" x2="635.1" y2="630.5" stroke="#111" stroke-width="1.2"/>
<line x1="648.9" y1="626.5" x2="648.9" y2="630.5" stroke="#111" stroke-width="1.2"/>
<line x1="662.8" y1="626.5" x2="662.8" y2="630.5" stroke="#111" stroke-width="1.2"/>
<line x1="676.6" y1="626.5" x2="676.6" y2="634.5" stroke="#111" stroke-width="1.2"/>
<text transform="translate(401.8,654.2) scale(1.06,1)" text-anchor="middle" style="font-family:&quot;Liberation Sans&quot;,sans-serif;font-size:12.9px" fill="#222">0</text>
<text transform="translate(449.9,654.2) scale(1.06,1)" text-anchor="middle" style="font-family:&quot;Liberation Sans&quot;,sans-serif;font-size:12.9px" fill="#222">200</text>
<text transform="translate(505,654.2) scale(1.06,1)" text-anchor="middle" style="font-family:&quot;Liberation Sans&quot;,sans-serif;font-size:12.9px" fill="#222">400</text>
<text transform="translate(560,654.2) scale(1.06,1)" text-anchor="middle" style="font-family:&quot;Liberation Sans&quot;,sans-serif;font-size:12.9px" fill="#222">600</text>
<text transform="translate(615.5,654.2) scale(1.06,1)" text-anchor="middle" style="font-family:&quot;Liberation Sans&quot;,sans-serif;font-size:12.9px" fill="#222">800</text>
<text transform="translate(673.4,654.2) scale(1.06,1)" text-anchor="middle" style="font-family:&quot;Liberation Sans&quot;,sans-serif;font-size:12.9px" fill="#222">1K</text>
<text transform="translate(346.5,494.6) rotate(-90)" x="0" y="4.6" text-anchor="middle" style="font-family:&quot;Liberation Sans&quot;,sans-serif;font-size:12.9px" fill="#222">Count</text>
<text transform="translate(542,676.3) scale(1.06,1)" text-anchor="middle" style="font-family:&quot;Liberation Sans&quot;,sans-serif;font-size:12.9px;letter-spacing:0.4px" fill="#222">FL2-A</text>
<text x="578.4" y="393.6" style="font-family:&quot;Liberation Serif&quot;,serif;font-size:23px" fill="#000">(32 µM)</text>
<rect x="101.5" y="731.2" width="496.8" height="403.4" fill="none" stroke="#333" stroke-width="1.3"/>
<rect x="210" y="887.2" width="34.9" height="152.1" fill="#000"/>
<rect x="210" y="843.7" width="34.9" height="43.5" fill="#ff6000"/>
<rect x="210" y="811.5" width="34.9" height="32.1" fill="#00c000"/>
<rect x="261.6" y="973.5" width="34.5" height="65.8" fill="#000"/>
<rect x="261.6" y="870.3" width="34.5" height="103.2" fill="#ff6000"/>
<rect x="261.6" y="811.5" width="34.5" height="58.8" fill="#00c000"/>
<rect x="313.5" y="991.2" width="34.4" height="48.1" fill="#000"/>
<rect x="313.5" y="873" width="34.4" height="118.2" fill="#ff6000"/>
<rect x="313.5" y="811.5" width="34.4" height="61.5" fill="#00c000"/>
<rect x="365" y="982.4" width="34.4" height="56.9" fill="#000"/>
<rect x="365" y="848.9" width="34.4" height="133.5" fill="#ff6000"/>
<rect x="365" y="811.5" width="34.4" height="37.4" fill="#00c000"/>
<line x1="192.9" y1="764.2" x2="192.9" y2="1040.8" stroke="#000" stroke-width="2.8"/>
<line x1="191.5" y1="1039.3" x2="418.5" y2="1039.3" stroke="#000" stroke-width="2.8"/>
<line x1="181.5" y1="1039.3" x2="192.9" y2="1039.3" stroke="#000" stroke-width="2.7"/>
<text x="169.9" y="1045.1" textLength="9" lengthAdjust="spacingAndGlyphs" style="font-family:&quot;Liberation Serif&quot;,serif;font-size:17px;font-weight:bold">0</text>
<line x1="181.5" y1="993.8" x2="192.9" y2="993.8" stroke="#000" stroke-width="2.7"/>
<text x="161.1" y="999.5" textLength="17.8" lengthAdjust="spacingAndGlyphs" style="font-family:&quot;Liberation Serif&quot;,serif;font-size:17px;font-weight:bold">20</text>
<line x1="181.5" y1="948.2" x2="192.9" y2="948.2" stroke="#000" stroke-width="2.7"/>
<text x="161.1" y="954" textLength="17.8" lengthAdjust="spacingAndGlyphs" style="font-family:&quot;Liberation Serif&quot;,serif;font-size:17px;font-weight:bold">40</text>
<line x1="181.5" y1="902.6" x2="192.9" y2="902.6" stroke="#000" stroke-width="2.7"/>
<text x="161.1" y="908.4" textLength="17.8" lengthAdjust="spacingAndGlyphs" style="font-family:&quot;Liberation Serif&quot;,serif;font-size:17px;font-weight:bold">60</text>
<line x1="181.5" y1="857.1" x2="192.9" y2="857.1" stroke="#000" stroke-width="2.7"/>
<text x="161.1" y="862.9" textLength="17.8" lengthAdjust="spacingAndGlyphs" style="font-family:&quot;Liberation Serif&quot;,serif;font-size:17px;font-weight:bold">80</text>
<line x1="181.5" y1="811.5" x2="192.9" y2="811.5" stroke="#000" stroke-width="2.7"/>
<text x="152.5" y="817.3" textLength="26.4" lengthAdjust="spacingAndGlyphs" style="font-family:&quot;Liberation Serif&quot;,serif;font-size:17px;font-weight:bold">100</text>
<line x1="181.5" y1="766" x2="192.9" y2="766" stroke="#000" stroke-width="2.7"/>
<text x="152.5" y="771.8" textLength="26.4" lengthAdjust="spacingAndGlyphs" style="font-family:&quot;Liberation Serif&quot;,serif;font-size:17px;font-weight:bold">120</text>
<line x1="227.6" y1="1039.3" x2="227.6" y2="1051" stroke="#000" stroke-width="2.7"/>
<text x="198.8" y="1069.9" textLength="57.6" lengthAdjust="spacingAndGlyphs" style="font-family:&quot;Liberation Serif&quot;,serif;font-size:17.6px;font-weight:bold">Control</text>
<line x1="279" y1="1039.3" x2="279" y2="1051" stroke="#000" stroke-width="2.7"/>
<text x="274.5" y="1069.9" textLength="9" lengthAdjust="spacingAndGlyphs" style="font-family:&quot;Liberation Serif&quot;,serif;font-size:17.6px;font-weight:bold">8</text>
<line x1="331" y1="1039.3" x2="331" y2="1051" stroke="#000" stroke-width="2.7"/>
<text x="321.7" y="1069.9" textLength="18.6" lengthAdjust="spacingAndGlyphs" style="font-family:&quot;Liberation Serif&quot;,serif;font-size:17.6px;font-weight:bold">16</text>
<line x1="381.8" y1="1039.3" x2="381.8" y2="1051" stroke="#000" stroke-width="2.7"/>
<text x="372.6" y="1069.9" textLength="18.4" lengthAdjust="spacingAndGlyphs" style="font-family:&quot;Liberation Serif&quot;,serif;font-size:17.6px;font-weight:bold">32</text>
<text x="241.6" y="1109.3" textLength="125.4" lengthAdjust="spacingAndGlyphs" style="font-family:&quot;Liberation Serif&quot;,serif;font-size:20.3px;font-weight:bold">[Ligand] (µM)</text>
<text transform="translate(134.9,904.5) rotate(-90)" x="-114" y="6" textLength="228" lengthAdjust="spacingAndGlyphs" style="font-family:&quot;Liberation Serif&quot;,serif;font-size:17.9px;font-weight:bold">Relative Cell Cycle Phase (%)</text>
<rect x="479.1" y="777" width="29.4" height="10.3" fill="#00c000"/>
<text x="525.1" y="789.2" textLength="44.6" lengthAdjust="spacingAndGlyphs" style="font-family:&quot;Liberation Serif&quot;,serif;font-size:18.2px">G2/M</text>
<rect x="479.1" y="809.9" width="29.4" height="10.2" fill="#ff6000"/>
<text x="525.1" y="821.9" textLength="9.6" lengthAdjust="spacingAndGlyphs" style="font-family:&quot;Liberation Serif&quot;,serif;font-size:18.2px">S</text>
<rect x="479.1" y="842.4" width="29.4" height="10.3" fill="#000"/>
<text x="525.1" y="854.8" textLength="51.4" lengthAdjust="spacingAndGlyphs" style="font-family:&quot;Liberation Serif&quot;,serif;font-size:18.2px">G0/G1</text>
</svg>
</body></html>
